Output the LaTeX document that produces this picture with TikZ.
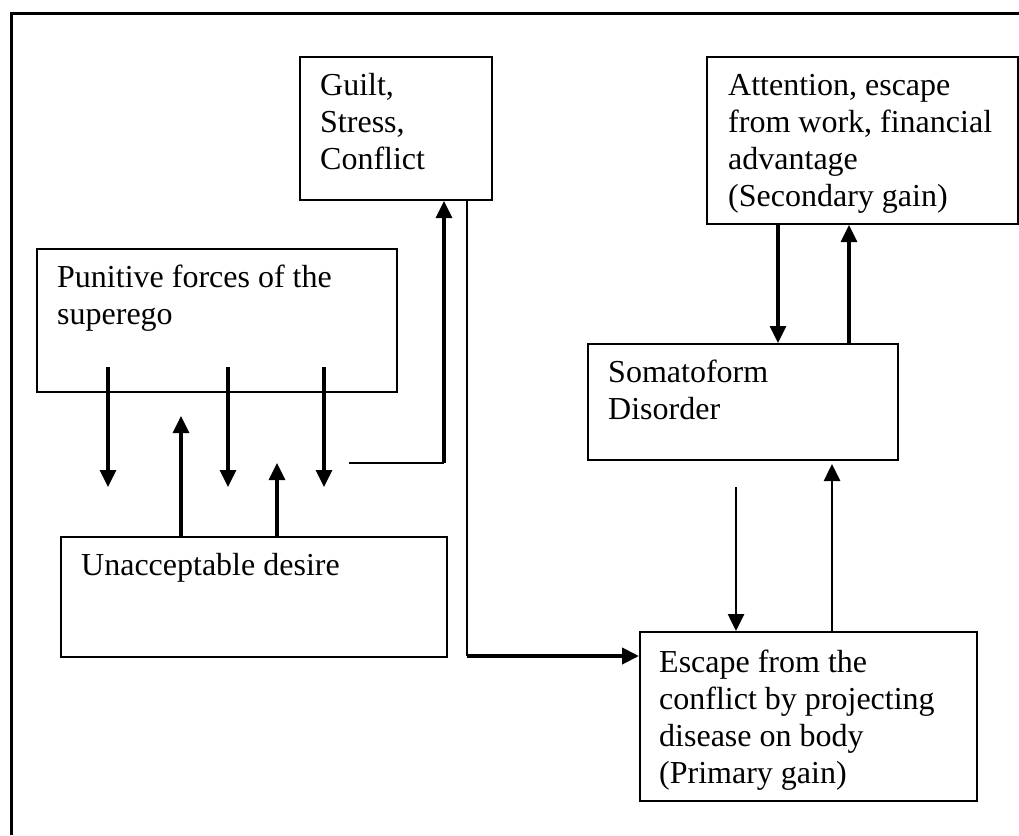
\documentclass[tikz,border=0pt]{standalone}
\usepackage{fontspec}
\setmainfont{Liberation Serif}
\usetikzlibrary{arrows.meta}
\begin{document}
\begin{tikzpicture}[x=1pt,y=-1pt,
  box/.style={draw,line width=2pt,rectangle,inner sep=0pt,anchor=north west},
  txt/.style={anchor=base west,inner sep=0pt,align=left,font=\fontsize{32}{37}\selectfont},
  arr/.style={line width=3.2pt,-{Triangle[length=17pt,width=16pt]}},
  ln/.style={line width=2pt}]
\useasboundingbox (0,0) rectangle (1019,835);
\draw[line width=3pt] (11,835) -- (11,13) -- (1019,13);
% boxes
\node[box,minimum width=192pt,minimum height=143pt] (g) at (299,56) {};
\node[box,minimum width=311pt,minimum height=167pt] (a) at (706,56) {};
\node[box,minimum width=360pt,minimum height=143pt] (p) at (36,248) {};
\node[box,minimum width=310pt,minimum height=116pt] (s) at (587,343) {};
\node[box,minimum width=386pt,minimum height=120pt] (u) at (60,536) {};
\node[box,minimum width=337pt,minimum height=169pt] (e) at (639,631) {};
% texts (anchored at the baseline of the last line)
\node[txt] (gt) at ([xshift=21pt,yshift=-113pt]g.north west) {Guilt,\\Stress,\\Conflict};
\node[txt] (at) at ([xshift=22pt,yshift=-150pt]a.north west) {Attention, escape\\from work, financial\\advantage\\(Secondary gain)};
\node[txt] (pt) at ([xshift=21pt,yshift=-76pt]p.north west) {Punitive forces of the\\superego};
\node[txt] (st) at ([xshift=21pt,yshift=-76pt]s.north west) {Somatoform\\Disorder};
\node[txt] (ut) at ([xshift=21pt,yshift=-39pt]u.north west) {Unacceptable desire};
\node[txt] (et) at ([xshift=20pt,yshift=-152pt]e.north west) {Escape from the\\conflict by projecting\\disease on body\\(Primary gain)};
% punitive down arrows
\coordinate (ps1) at (108,367); \coordinate (pe1) at (108,487);
\coordinate (ps2) at (228,367); \coordinate (pe2) at (228,487);
\coordinate (ps3) at (324,367); \coordinate (pe3) at (324,487);
\draw[arr] (ps1) -- (pe1);
\draw[arr] (ps2) -- (pe2);
\draw[arr] (ps3) -- (pe3);
% desire up arrows
\coordinate (ua1) at (181,416); \coordinate (ua2) at (277,463);
\draw[arr] (u.north -| ua1) -- (ua1);
\draw[arr] (u.north -| ua2) -- (ua2);
% conflict to guilt
\coordinate (c0) at (349,463); \coordinate (c1) at (444,463);
\draw[ln] (c0) -- (c1);
\draw[arr] (c1) -- (c1 |- g.south);
% guilt to escape
\coordinate (d1) at (467,656);
\draw[ln] (g.south -| d1) -- (d1);
\draw[arr,line width=4pt] (d1) -- (d1 -| e.west);
% attention <-> somatoform
\coordinate (ax1) at (778,0); \coordinate (ax2) at (849,0);
\draw[arr] (a.south -| ax1) -- (s.north -| ax1);
\draw[arr] (s.north -| ax2) -- (a.south -| ax2);
% somatoform <-> escape
\coordinate (sd) at (736,487); \coordinate (su) at (832,464);
\draw[arr,line width=2.6pt] (sd) -- (e.north -| sd);
\draw[arr,line width=2.6pt] (e.north -| su) -- (su);
\end{tikzpicture}
\end{document}
